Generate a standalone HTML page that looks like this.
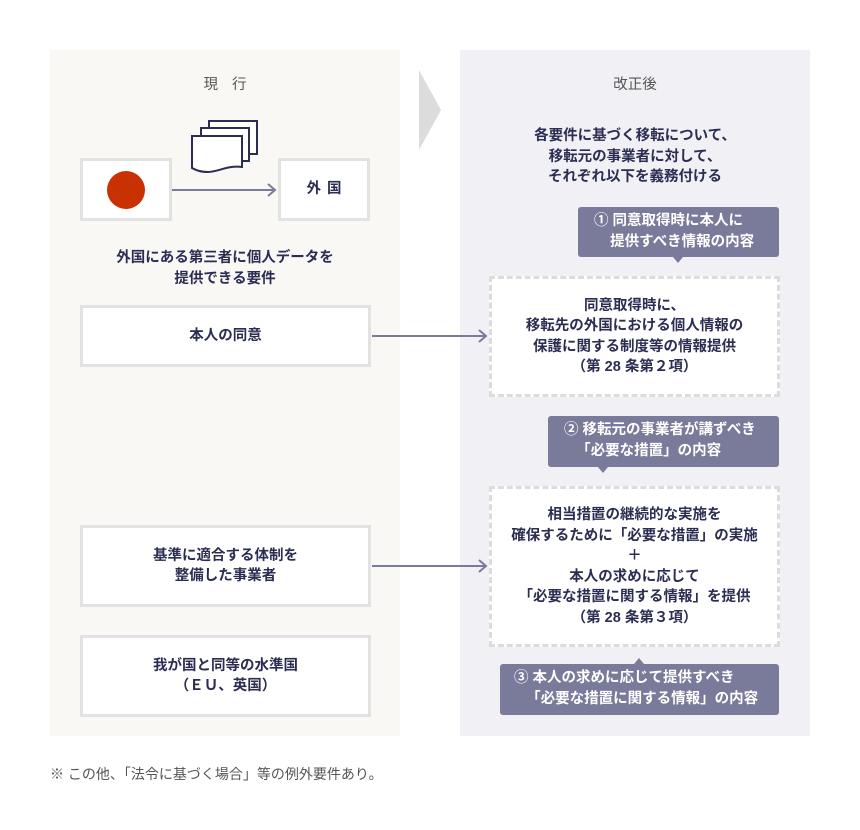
<!DOCTYPE html>
<html><head><meta charset="utf-8"><style>
*{margin:0;padding:0;box-sizing:border-box}
body{width:860px;height:830px;background:#fff;position:relative;font-family:"Liberation Sans","Noto Sans CJK JP",sans-serif;color:#2b2d52;font-weight:bold;font-size:14.5px;overflow:hidden}
.a{position:absolute}
.t{position:absolute;text-align:center;line-height:20.5px}
.box{position:absolute;background:#fff;border:3px solid #e2e2e2;display:flex;align-items:center;justify-content:center;text-align:center;line-height:20.5px}
.dash{position:absolute;background:#fff;border:3px dashed #dcdcdc;display:flex;align-items:center;justify-content:center;text-align:center;line-height:20.5px}
.call{position:absolute;background:#7a7a9a;color:#fff;border-radius:3px;line-height:20.5px;font-size:14.5px;white-space:nowrap}
</style></head><body>
<div class="a" style="left:50px;top:50px;width:350px;height:686px;background:#f9f8f5"></div>
<div class="a" style="left:460px;top:50px;width:350px;height:686px;background:#f0f0f5"></div>
<svg class="a" style="left:0;top:0" width="860" height="830">
<polygon points="419,70 441,110 419,150" fill="#dcdcdc"/>
<g fill="#fff" stroke="#2b2d52" stroke-width="2">
<rect x="209" y="121" width="48" height="33"/>
<rect x="201" y="128" width="48" height="33"/>
<path d="M192,136 H242 V167 C228,165 218,172 208,172 C200,172 196,170 192,168 Z"/>
</g>
<line x1="172" y1="190" x2="274" y2="190" stroke="#7a7a9a" stroke-width="2"/>
<polyline points="268,184 275,190 268,196" fill="none" stroke="#7a7a9a" stroke-width="2"/>
<line x1="372" y1="336" x2="485" y2="336" stroke="#7a7a9a" stroke-width="2"/>
<polyline points="479,330 486,336 479,342" fill="none" stroke="#7a7a9a" stroke-width="2"/>
<line x1="372" y1="566" x2="485" y2="566" stroke="#7a7a9a" stroke-width="2"/>
<polyline points="479,560 486,566 479,572" fill="none" stroke="#7a7a9a" stroke-width="2"/>
<polygon points="673,257 683,257 678,263" fill="#7a7a9a"/>
<polygon points="598,467 608,467 603,473" fill="#7a7a9a"/>
<polygon points="634,664 644,664 639,658" fill="#7a7a9a"/>
</svg>
<div class="t" style="left:50px;width:350px;top:75px;color:#555;font-weight:normal;letter-spacing:14px;padding-left:14px">現行</div>
<div class="t" style="left:460px;width:350px;top:75px;color:#555;font-weight:normal">改正後</div>
<div class="box" style="left:80px;top:158px;width:92px;height:63px"><div style="width:38px;height:38px;border-radius:50%;background:#c93200"></div></div>
<div class="box" style="left:278px;top:158px;width:92px;height:63px;letter-spacing:6px;padding-left:6px">外国</div>
<div class="t" style="left:50px;width:350px;top:248px">外国にある第三者に個人データを<br>提供できる要件</div>
<div class="box" style="left:80px;top:305px;width:291px;height:62px">本人の同意</div>
<div class="box" style="left:80px;top:525px;width:291px;height:82px">基準に適合する体制を<br>整備した事業者</div>
<div class="box" style="left:80px;top:635px;width:291px;height:82px">我が国と同等の水準国<br>（ＥＵ、英国）</div>
<div class="t" style="left:460px;width:350px;top:126px">各要件に基づく移転について、<br>移転元の事業者に対して、<br>それぞれ以下を義務付ける</div>
<div class="call" style="left:578px;top:207px;width:201px;height:50px;padding:4px 0 0 16px">① 同意取得時に本人に<br>&nbsp;&nbsp;&nbsp;&nbsp;提供すべき情報の内容</div>
<div class="dash" style="left:489px;top:276px;width:291px;height:121px">同意取得時に、<br>移転先の外国における個人情報の<br>保護に関する制度等の情報提供<br>（第 28 条第２項）</div>
<div class="call" style="left:548px;top:416px;width:231px;height:51px;padding:4px 0 0 16px">② 移転元の事業者が講ずべき<br>&nbsp;&nbsp;&nbsp;「必要な措置」の内容</div>
<div class="dash" style="left:489px;top:486px;width:291px;height:161px">相当措置の継続的な実施を<br>確保するために「必要な措置」の実施<br>＋<br>本人の求めに応じて<br>「必要な措置に関する情報」を提供<br>（第 28 条第３項）</div>
<div class="call" style="left:500px;top:664px;width:279px;height:51px;padding:4px 0 0 14px">③ 本人の求めに応じて提供すべき<br>&nbsp;&nbsp;&nbsp;「必要な措置に関する情報」の内容</div>
<div class="a" style="left:50px;top:764px;color:#555;font-weight:normal;font-size:14px">※ この他、「法令に基づく場合」等の例外要件あり。</div>
</body></html>
